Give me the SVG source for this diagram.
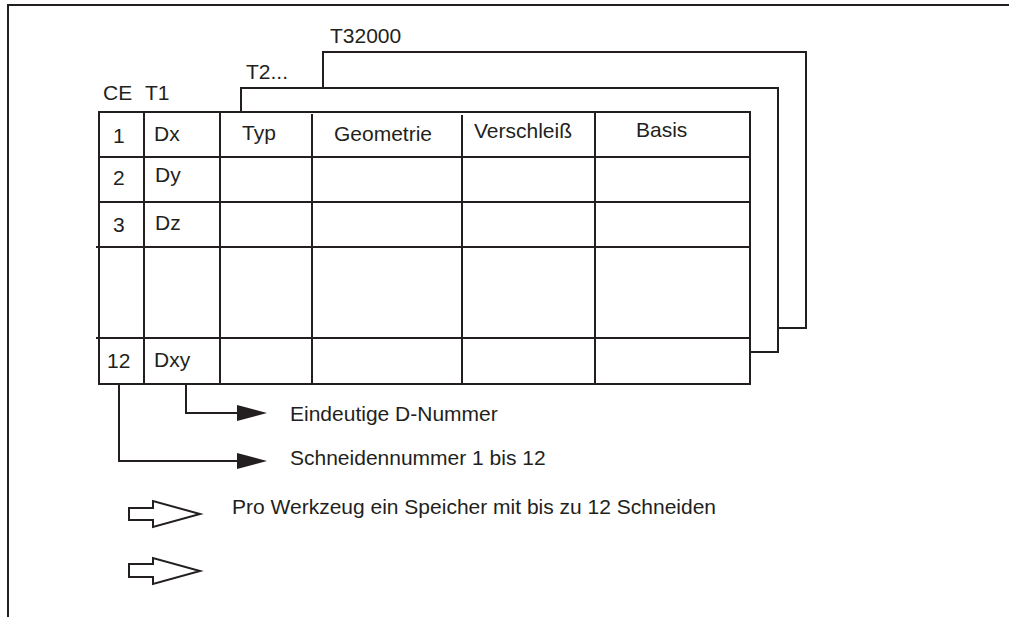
<svg xmlns="http://www.w3.org/2000/svg" width="1009" height="617" viewBox="0 0 1009 617">
  <style>
    .ln { fill: none; stroke: #231f20; stroke-width: 2; stroke-linecap: square; }
    .card { fill: #ffffff; stroke: #231f20; stroke-width: 2; }
    .txt { font-family: "Liberation Sans", Arial, sans-serif; font-size: 21px; fill: #231f20; }
    .head { fill: #231f20; stroke: none; }
    .hollow { fill: #ffffff; stroke: #231f20; stroke-width: 2; stroke-linejoin: miter; }
  </style>

  <!-- outer frame -->
  <g id="frame">
    <path class="ln" d="M8,617 V5 H1009"/>
  </g>

  <!-- stacked tool cards behind the main table -->
  <g id="card-t32000">
    <path class="card" d="M323,112 V52 H806 V328 H778"/>
    <text class="txt" x="330" y="43">T32000</text>
  </g>
  <g id="card-t2">
    <path class="card" d="M241,112 V88 H778 V352 H750"/>
    <text class="txt" x="246" y="79">T2...</text>
  </g>

  <!-- main table of tool T1 -->
  <g id="table-t1">
    <rect class="ln" x="99" y="112" width="651" height="272"/>
    <!-- columns -->
    <line class="ln" x1="144" y1="112" x2="144" y2="384"/>
    <line class="ln" x1="220" y1="112" x2="220" y2="384"/>
    <line class="ln" x1="312" y1="115" x2="312" y2="384"/>
    <line class="ln" x1="462" y1="116" x2="462" y2="384"/>
    <line class="ln" x1="595" y1="113" x2="595" y2="384"/>
    <!-- rows -->
    <line class="ln" x1="99" y1="157" x2="750" y2="157"/>
    <line class="ln" x1="99" y1="202" x2="750" y2="202"/>
    <line class="ln" x1="97" y1="247" x2="750" y2="247"/>
    <line class="ln" x1="97" y1="338" x2="750" y2="338"/>

    <text class="txt" x="103" y="100">CE</text>
    <text class="txt" x="145" y="100">T1</text>

    <text class="txt" x="113" y="143">1</text>
    <text class="txt" x="154" y="141">Dx</text>
    <text class="txt" x="242" y="140">Typ</text>
    <text class="txt" x="334" y="141">Geometrie</text>
    <text class="txt" x="474" y="138">Verschleiß</text>
    <text class="txt" x="636" y="137">Basis</text>

    <text class="txt" x="113" y="185">2</text>
    <text class="txt" x="155" y="182">Dy</text>

    <text class="txt" x="113" y="232">3</text>
    <text class="txt" x="155" y="230">Dz</text>

    <text class="txt" x="107" y="368">12</text>
    <text class="txt" x="154" y="367">Dxy</text>
  </g>

  <!-- leader lines from the table -->
  <g id="connectors">
    <path class="ln" d="M186,385 V413 H240"/>
    <polygon class="head" points="237,405 267,413 237,421"/>
    <path class="ln" d="M119,385 V461 H240"/>
    <polygon class="head" points="237,453 267,461 237,469"/>
  </g>

  <g id="label-dnummer">
    <text class="txt" x="290" y="421">Eindeutige D-Nummer</text>
  </g>
  <g id="label-schneide">
    <text class="txt" x="290" y="465">Schneidennummer 1 bis 12</text>
  </g>

  <!-- hollow block arrows -->
  <g id="note-1">
    <polygon class="hollow" points="129,508 153,508 153,501 200,514 153,527 153,520 129,520"/>
    <text class="txt" x="232" y="514">Pro Werkzeug ein Speicher mit bis zu 12 Schneiden</text>
  </g>
  <g id="note-2">
    <polygon class="hollow" points="129,564 153,564 153,558 200,571 153,584 153,577 129,577"/>
  </g>
</svg>
